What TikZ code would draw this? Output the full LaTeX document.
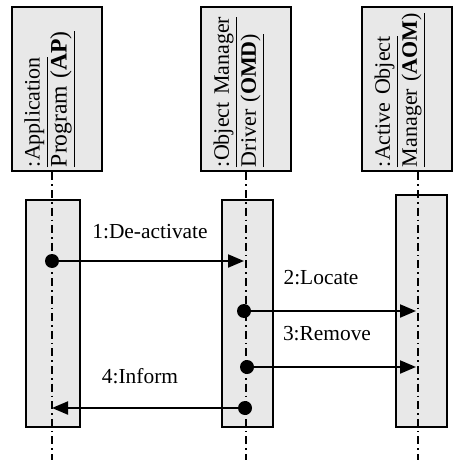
\documentclass[tikz,border=0pt]{standalone}
\usepackage{fontspec}
\setmainfont{Liberation Serif}
\usetikzlibrary{arrows.meta,positioning}
\definecolor{boxgray}{RGB}{232,232,232}

\begin{document}
\begin{tikzpicture}[x=0.5pt,y=-0.5pt,
  headbox/.style={draw,fill=boxgray,line width=1.4pt,minimum width=45pt,minimum height=82pt,inner sep=0pt},
  headtext/.style={rotate=90,text width=78pt,align=left,inner sep=0pt,font=\fontsize{11}{13.5}\selectfont},
  actbox/.style={draw,fill=boxgray,line width=0.9pt},
  lifeline/.style={line width=0.8pt,dash pattern=on 4pt off 2pt on 0.8pt off 2pt},
  msg/.style={line width=1pt,-{Triangle[length=8pt,width=6.5pt]}},
  sender/.style={circle,fill=black,minimum size=7pt,inner sep=0pt},
  msglabel/.style={font=\fontsize{10.7}{13}\selectfont,inner sep=0pt}]
\useasboundingbox (0,0) rectangle (454,460);
% object heads
\node[headbox] (ap) at (57,89) {};
\node[headbox] (omd) at (246,89) {};
\node[headbox] (aom) at (407,89) {};
\node[headtext] (apt) at ([xshift=-3.5pt]ap.center) {\underline{:Application}\\\fontsize{11.8}{13.5}\selectfont\underline{Program (\textbf{AP})}};
\node[headtext] (omdt) at ([xshift=-3.5pt]omd.center) {\underline{:Object Manager}\\\underline{Driver (\textbf{OMD})}};
\node[headtext] (aomt) at ([xshift=-3.5pt]aom.center) {\underline{:Active Object}\\\underline{Manager (\textbf{AOM})}};
% activations
\draw[actbox] (26,200) rectangle (80,427);
\draw[actbox] (222,200) rectangle (273,427);
\draw[actbox] (396,195) rectangle (447,427);
% lifelines
\coordinate (apl) at (ap.south -| 52,0);
\coordinate (omdl) at (omd.south -| 246,0);
\coordinate (aoml) at (aom.south -| 418,0);
\draw[lifeline] (apl) -- (52,460);
\draw[lifeline] (omdl) -- (246,460);
\draw[lifeline] (aoml) -- (418,460);
% messages
\node[sender] (s1) at (52,261) {};
\coordinate (r1) at (244,261);
\draw[msg] (s1.center) -- (r1);
\node[msglabel] (l1) at (150,232) {1:De-activate};
\node[sender] (s2) at (244,311) {};
\coordinate (r2) at (416,311);
\draw[msg] (s2.center) -- (r2);
\node[msglabel] (l2) at (321,278) {2:Locate};
\node[sender] (s3) at (247,367) {};
\coordinate (r3) at (416,367);
\draw[msg] (s3.center) -- (r3);
\node[msglabel] (l3) at (327,334) {3:Remove};
\node[sender] (s4) at (245,408) {};
\coordinate (r4) at (52,408);
\draw[msg] (s4.center) -- (r4);
\node[msglabel] (l4) at (140,376) {4:Inform};
\end{tikzpicture}
\end{document}
